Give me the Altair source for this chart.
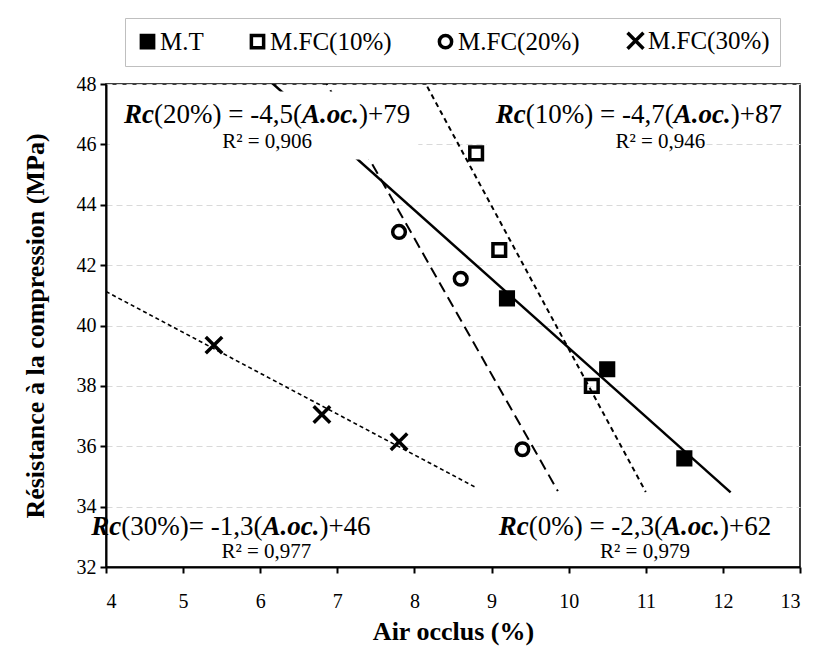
import altair as alt
import pandas as pd

# ---------------- data ----------------
series = ["M.T", "M.FC(10%)", "M.FC(20%)", "M.FC(30%)"]
mt_x = [9.2, 10.5, 11.5]
mt_y = [40.9, 38.55, 35.6]
fc10_x = [8.8, 9.1, 10.3]
fc10_y = [45.7, 42.5, 38.0]
fc20_x = [7.8, 8.6, 9.4]
fc20_y = [43.1, 41.55, 35.9]
fc30_x = [5.4, 6.8, 7.8]
fc30_y = [39.35, 37.05, 36.15]

# x range over which each trendline is drawn in the reference
trend_extent = [[6.0, 12.1], [8.0, 11.0], [6.8, 9.86], [4.0, 8.8]]

x_ticks = [4, 5, 6, 7, 8, 9, 10, 11, 12, 13]
y_ticks = [32, 34, 36, 38, 40, 42, 44, 46, 48]

# equation labels (segments alternate: bold-italic, normal, bold-italic, normal)
eq_segments = [
    ["Rc", "(20%) = -4,5(", "A.oc.", ")+79"],
    ["Rc", "(10%) = -4,7(", "A.oc.", ")+87"],
    ["Rc", "(30%)= -1,3(", "A.oc.", ")+46"],
    ["Rc", "(0%) = -2,3(", "A.oc.", ")+62"],
]
eq_x = [6.09, 10.91, 5.62, 10.86]
eq_y = [46.97, 46.97, 33.32, 33.32]
r2_text = ["R² = 0,906", "R² = 0,946", "R² = 0,977", "R² = 0,979"]
r2_x = [6.09, 11.19, 6.08, 10.99]
r2_y = [46.08, 46.08, 32.5, 32.5]

# white label backgrounds (hide lines / grid under text boxes)
box_x = [4.05, 8.94]
box_x2 = [8.05, 11.66]
box_y = [45.5, 45.7]
box_y2 = [47.75, 46.4]

# ---------------- tables ----------------
xs = [mt_x, fc10_x, fc20_x, fc30_x]
ys = [mt_y, fc10_y, fc20_y, fc30_y]
rows = []
for s, xx, yy in zip(series, xs, ys):
    for a, b in zip(xx, yy):
        rows.append({"series": s, "x": a, "y": b})
pts = pd.DataFrame(rows)

FONT = "Liberation Serif"
X_PATH = "M-1.3,-1.3L1.3,1.3M-1.3,1.3L1.3,-1.3"

xscale = alt.Scale(domain=[4, 13], nice=False, zero=False)
yscale = alt.Scale(domain=[32, 48], nice=False, zero=False)

xaxis = alt.Axis(values=x_ticks, format="d", title="Air occlus (%)", grid=False,
                 labelFont=FONT, labelFontSize=20, labelColor="black",
                 labelPadding=18, tickColor="black", tickWidth=2, tickSize=6,
                 domainColor="black", domainWidth=2,
                 titleFont=FONT, titleFontSize=26, titleFontWeight="bold",
                 titleColor="black", titlePadding=7)
yaxis = alt.Axis(values=y_ticks, format="d",
                 title="Résistance à la compression (MPa)",
                 grid=True, gridColor="#d9d9d9", gridDash=[6, 4], gridWidth=1,
                 labelFont=FONT, labelFontSize=20, labelColor="black",
                 labelPadding=4, tickColor="black", tickWidth=2, tickSize=6,
                 domainColor="black", domainWidth=2,
                 titleFont=FONT, titleFontSize=26, titleFontWeight="bold",
                 titleColor="black", titlePadding=28)

base = alt.Chart(pts)

line_styles = [
    dict(strokeWidth=2.5),
    dict(strokeWidth=2, strokeDash=[5, 4]),
    dict(strokeWidth=2, strokeDash=[11, 6]),
    dict(strokeWidth=1.6, strokeDash=[4, 3]),
]

layers = []
# axes carrier (invisible)
layers.append(base.mark_point(opacity=0).encode(
    x=alt.X("x:Q", scale=xscale, axis=xaxis),
    y=alt.Y("y:Q", scale=yscale, axis=yaxis)))

for s, ext, st in zip(series, trend_extent, line_styles):
    layers.append(
        base.transform_filter(alt.datum.series == s)
        .transform_regression("x", "y", extent=ext)
        .mark_line(color="black", clip=True, **st)
        .encode(x=alt.X("x:Q", scale=xscale), y=alt.Y("y:Q", scale=yscale))
    )

boxes = pd.DataFrame({"x": box_x, "x2": box_x2, "y": box_y, "y2": box_y2})
layers.append(alt.Chart(boxes).mark_rect(color="white", opacity=1).encode(
    x=alt.X("x:Q", scale=xscale), x2="x2:Q",
    y=alt.Y("y:Q", scale=yscale), y2="y2:Q"))

legend = alt.Legend(title=None, orient="none", direction="horizontal",
                    legendX=19, legendY=-66, padding=10, columnPadding=40,
                    labelFont=FONT, labelFontSize=25, labelColor="black",
                    labelOffset=0, symbolSize=150, symbolStrokeWidth=3.5,
                    symbolStrokeColor="black", strokeColor="#bfbfbf",
                    fillColor="white", labelLimit=400)

layers.append(base.mark_point(filled=False, strokeWidth=3.5,
                              size=160, opacity=1).encode(
    x=alt.X("x:Q", scale=xscale),
    y=alt.Y("y:Q", scale=yscale),
    shape=alt.Shape("series:N", sort=series,
                    scale=alt.Scale(domain=series,
                                    range=["square", "square", "circle", X_PATH]),
                    legend=legend),
    fill=alt.Fill("series:N", sort=series,
                  scale=alt.Scale(domain=series,
                                  range=["black", "transparent", "transparent", "transparent"]),
                  legend=legend),
    stroke=alt.Stroke("series:N", sort=series,
                      scale=alt.Scale(domain=series,
                                      range=["black", "black", "black", "black"]),
                      legend=legend),
))

# -------- equation text (mixed styles built from segments) --------
RM = {' ': 250, '(': 333, ')': 333, '%': 833, '=': 564, '-': 333, ',': 250,
      '.': 250, '+': 564, 'R': 667, '²': 300}
BI = {'R': 667, 'c': 444, 'A': 667, '.': 250, 'o': 500}
EQ_SIZE = 27


def seg_w(s, bi):
    d = BI if bi else RM
    return sum(d.get(ch, 500) for ch in s) * EQ_SIZE / 1000.0


for segs, cx, cy in zip(eq_segments, eq_x, eq_y):
    widths = [seg_w(sg, j % 2 == 0) for j, sg in enumerate(segs)]
    total = sum(widths)
    cum = 0.0
    for j, sg in enumerate(segs):
        bi = (j % 2 == 0)
        df = pd.DataFrame({"x": [cx], "y": [cy], "t": [sg]})
        layers.append(alt.Chart(df).mark_text(
            align="left", baseline="middle", dx=cum - total / 2.0,
            font=FONT, fontSize=EQ_SIZE,
            fontStyle="italic" if bi else "normal",
            fontWeight="bold" if bi else "normal", color="black").encode(
            x=alt.X("x:Q", scale=xscale), y=alt.Y("y:Q", scale=yscale),
            text="t:N"))
        cum += widths[j]

r2 = pd.DataFrame({"x": r2_x, "y": r2_y, "t": r2_text})
layers.append(alt.Chart(r2).mark_text(
    align="center", baseline="middle", font=FONT, fontSize=21,
    color="black").encode(
    x=alt.X("x:Q", scale=xscale), y=alt.Y("y:Q", scale=yscale), text="t:N"))

chart = alt.layer(*layers).properties(
    width=694, height=483,
    autosize=alt.AutoSizeParams(type="none"),
    padding={"left": 98, "top": 76, "right": 6, "bottom": 80},
    background="white",
).configure_view(stroke="black", strokeWidth=1.5)

chart.save("out.html", embed_options={"renderer": "svg", "actions": False})
